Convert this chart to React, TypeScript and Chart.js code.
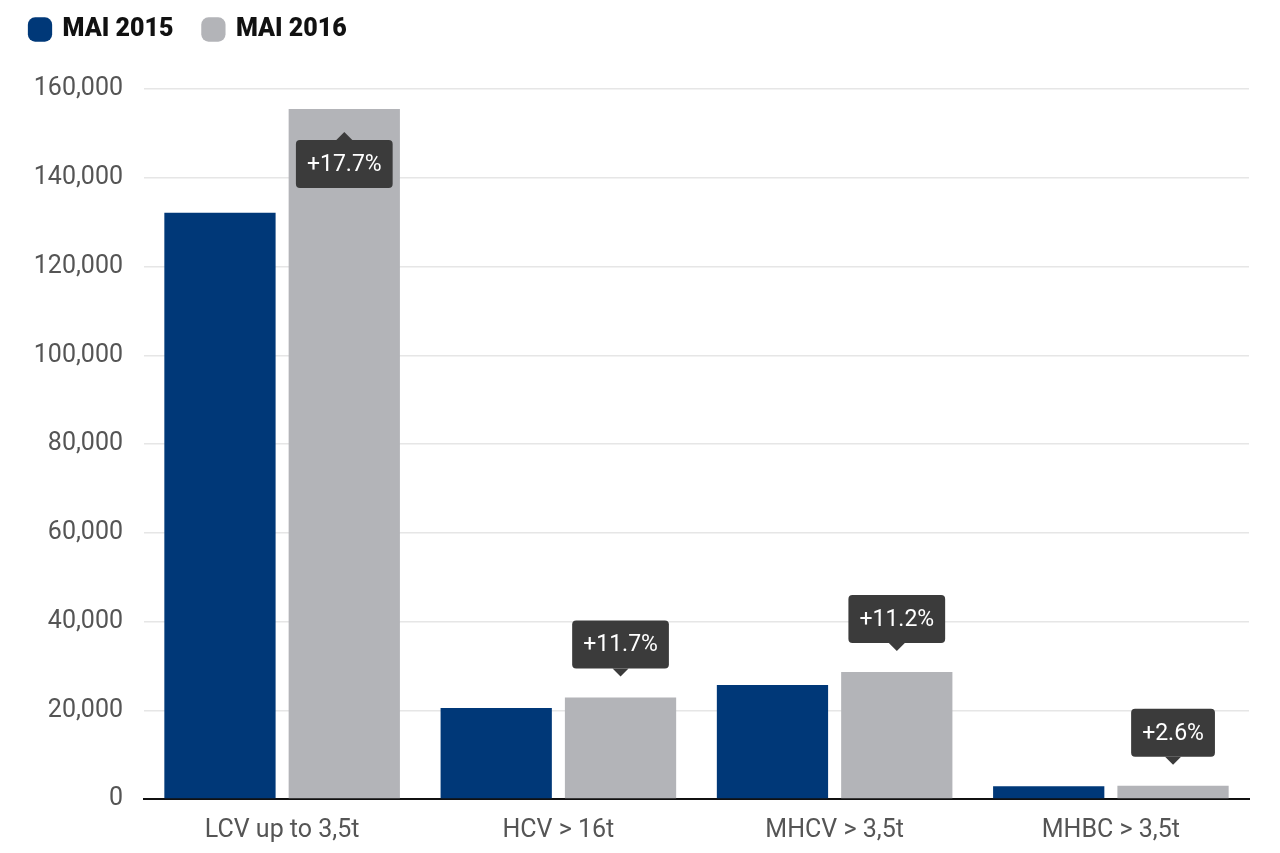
import React, { useEffect, useRef } from "react";
import { Chart, registerables } from "chart.js";

Chart.register(...registerables);

const categories = ["LCV up to 3,5t", "HCV > 16t", "MHCV > 3,5t", "MHBC > 3,5t"];
const seriesLabels = ["MAI 2015", "MAI 2016"];
const values2015 = [132100, 20500, 25700, 2900];
const values2016 = [155500, 22900, 28600, 2975];
const changeLabels = ["+17.7%", "+11.7%", "+11.2%", "+2.6%"];
const yTicks = [0, 20000, 40000, 60000, 80000, 100000, 120000, 140000, 160000];

const PLOT_TOP = 89;
const LEGEND_SHIFT = 37;

const legendShift = {
  id: "legendShift",
  afterLayout(chart: any) {
    const lg = chart.legend;
    if (!lg) return;
    lg.top -= LEGEND_SHIFT;
    lg.bottom -= LEGEND_SHIFT;
  },
};

const calloutPlugin = {
  id: "callouts",
  afterDatasetsDraw(chart: any) {
    const { ctx, chartArea } = chart;
    const meta = chart.getDatasetMeta(1);
    ctx.save();
    ctx.font = "23px Roboto";
    meta.data.forEach((bar: any, i: number) => {
      const text = changeLabels[i];
      const tw = ctx.measureText(text).width;
      const w = tw + 22;
      const h = 48;
      const gap = 21;
      const caret = 8;
      let boxTop = bar.y - gap - caret - h;
      let flip = false;
      if (boxTop < chartArea.top) {
        flip = true;
        boxTop = bar.y + 23 + caret;
      }
      const left = bar.x - w / 2;
      ctx.fillStyle = "#3b3b3b";
      ctx.beginPath();
      if (ctx.roundRect) ctx.roundRect(left, boxTop, w, h, 4);
      else ctx.rect(left, boxTop, w, h);
      ctx.fill();
      ctx.beginPath();
      if (!flip) {
        ctx.moveTo(bar.x - caret, boxTop + h);
        ctx.lineTo(bar.x + caret, boxTop + h);
        ctx.lineTo(bar.x, boxTop + h + caret);
      } else {
        ctx.moveTo(bar.x - caret, boxTop);
        ctx.lineTo(bar.x + caret, boxTop);
        ctx.lineTo(bar.x, boxTop - caret);
      }
      ctx.closePath();
      ctx.fill();
      ctx.fillStyle = "#ffffff";
      ctx.textAlign = "center";
      ctx.textBaseline = "middle";
      ctx.fillText(text, bar.x, boxTop + h / 2 + 1);
    });
    ctx.restore();
  },
};

export default function App() {
  const ref = useRef<HTMLCanvasElement>(null);
  useEffect(() => {
    if (!ref.current) return;
    const chart = new Chart(ref.current, {
      type: "bar",
      data: {
        labels: categories,
        datasets: [
          { label: seriesLabels[0], data: values2015, backgroundColor: "#003878" },
          { label: seriesLabels[1], data: values2016, backgroundColor: "#b3b4b8" },
        ],
      },
      options: {
        animation: false,
        responsive: false,
        devicePixelRatio: 1,
        layout: { padding: { left: 0, right: 31, top: -15, bottom: 0 } },
        datasets: { bar: { categoryPercentage: 0.9, barPercentage: 0.895 } },
        plugins: {
          tooltip: { enabled: false },
          legend: {
            position: "top",
            align: "start",
            labels: {
              usePointStyle: true,
              pointStyle: "rectRounded",
              boxWidth: 20,
              boxHeight: 20,
              padding: 30,
              color: "#111111",
              font: { family: "Roboto", size: 25, weight: "900" },
            },
          },
        },
        scales: {
          x: {
            grid: { display: false, drawTicks: false },
            border: { display: true, color: "#111111", width: 2 },
            ticks: { color: "#555555", font: { family: "Roboto", size: 25 }, padding: 17 },
            afterFit: (s: any) => {
              s.height = 54;
            },
          },
          y: {
            min: 0,
            max: 160000,
            afterBuildTicks: (s: any) => {
              s.ticks = yTicks.map((v) => ({ value: v }));
            },
            grid: { color: "#e6e6e6", drawTicks: false, lineWidth: 1.5 },
            border: { display: false },
            ticks: {
              color: "#555555",
              font: { family: "Roboto", size: 25 },
              padding: 21,
              callback: (v: any) => Number(v).toLocaleString("en-US"),
            },
            afterFit: (s: any) => {
              s.width = 144;
              s.paddingTop = PLOT_TOP;
            },
          },
        },
      },
      plugins: [legendShift, calloutPlugin],
    });
    return () => chart.destroy();
  }, []);
  return (
    <div style={{ position: "fixed", left: 0, top: 0, width: 1280, height: 853, background: "#fff" }}>
      <canvas ref={ref} width={1280} height={853} style={{ width: 1280, height: 853 }} />
    </div>
  );
}
